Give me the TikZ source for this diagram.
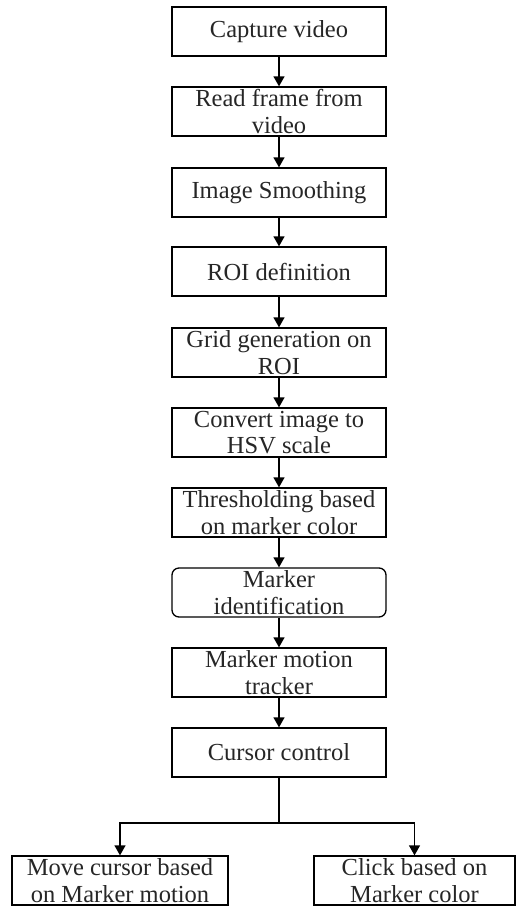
\documentclass[tikz,border=0pt]{standalone}
\usepackage{fontspec}
\setmainfont{Liberation Serif}
\usetikzlibrary{arrows.meta}
\begin{document}
\begin{tikzpicture}[x=1pt,y=-1pt,
  stepbox/.style={draw=black, line width=1.3pt, minimum width=214pt, minimum height=49pt,
    inner sep=0pt, align=center, font=\fontsize{24.5}{26.5}\selectfont, text=black!85},
  roundbox/.style={stepbox, rounded corners=7pt},
  flow/.style={draw=black, line width=1.3pt, -{Triangle[width=11pt,length=10pt]}},
  link/.style={draw=black, line width=1.3pt}]
\useasboundingbox (0,0) rectangle (516,906);

% main pipeline
\node[stepbox] (s1) at (279,31.5) {Capture video};
\node[stepbox] (s2) at (279,111.5) {Read frame from\\video};
\node[stepbox] (s3) at (279,192.5) {Image Smoothing};
\node[stepbox] (s4) at (279,271.5) {ROI definition};
\node[stepbox] (s5) at (279,352.5) {Grid generation on\\ROI};
\node[stepbox] (s6) at (279,432.5) {Convert image to\\HSV scale};
\node[stepbox] (s7) at (279,512.5) {Thresholding based\\on marker color};
\node[roundbox] (s8) at (279,592.5) {Marker\\identification};
\node[stepbox] (s9) at (279,672.5) {Marker motion\\tracker};
\node[stepbox] (s10) at (279,752.5) {Cursor control};

% two outcomes
\node[stepbox, minimum width=216pt] (mv) at (120,880.5) {Move cursor based\\on Marker motion};
\node[stepbox, minimum width=201pt] (ck) at (414.5,880.5) {Click based on\\Marker color};

\foreach \a/\b in {s1/s2,s2/s3,s3/s4,s4/s5,s5/s6,s6/s7,s7/s8,s8/s9,s9/s10}
  \draw[flow] (\a) -- (\b);

% branch below cursor control
\coordinate (split) at (279,823);
\draw[link] (s10.south) -- (split);
\draw[flow] (split) -| (mv.north);
\draw[flow] (split) -| (ck.north);
\end{tikzpicture}
\end{document}
